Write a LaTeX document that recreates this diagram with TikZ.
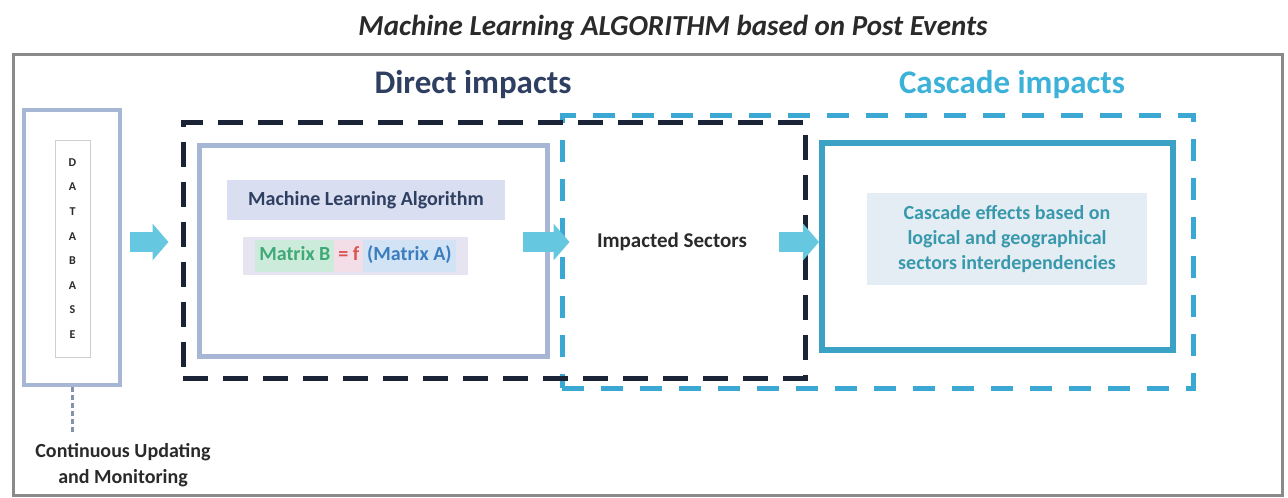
\documentclass[tikz,border=0pt]{standalone}
\usepackage{fontspec}
\setmainfont{Carlito}
\usetikzlibrary{arrows.meta}

\definecolor{framegray}{HTML}{8A8A8A}
\definecolor{navyink}{HTML}{2F3F62}
\definecolor{darkdash}{HTML}{1B2436}
\definecolor{cyandash}{HTML}{3AA8D2}
\definecolor{cyanhead}{HTML}{3DB2D8}
\definecolor{steelline}{HTML}{A6B6D4}
\definecolor{tealline}{HTML}{3BA2C6}
\definecolor{tealink}{HTML}{3898AC}
\definecolor{arrowfill}{HTML}{66C8E0}
\definecolor{lavbg}{HTML}{D9DEF0}
\definecolor{matbg}{HTML}{E6E4F1}
\definecolor{greenbg}{HTML}{CDEBDA}
\definecolor{greenink}{HTML}{3FA877}
\definecolor{bluebg}{HTML}{D1E3F5}
\definecolor{blueink}{HTML}{3B7DBF}
\definecolor{pinkbg}{HTML}{F3DDE6}
\definecolor{redink}{HTML}{D9534F}
\definecolor{cascbg}{HTML}{E5EDF4}
\definecolor{dbgray}{HTML}{CFCFCF}
\definecolor{textgray}{HTML}{2A2A2A}

\newcommand\hlword[2]{{\setlength{\fboxsep}{4pt}\colorbox{#1}{\strut#2}}}

\tikzset{
  plainbox/.style={rectangle, draw, inner sep=0pt},
  dashedframe/.style={plainbox, line width=5pt},
  label/.style={inner sep=0pt, align=center},
  blockarrow/.style={draw=arrowfill, line width=20pt,
    -{Triangle[width=36pt, length=16pt, fill=arrowfill]}},
}

\begin{document}
\begin{tikzpicture}[x=1pt, y=-1pt]
\useasboundingbox (0,0) rectangle (1288,498);
\fill[white] (0,0) rectangle (1288,498);

% title and outer frame
\node[label, font=\fontsize{29}{34}\selectfont\bfseries\itshape, text=textgray]
  (title) at (673,28) {Machine Learning ALGORITHM based on Post Events};
\node[plainbox, draw=framegray, line width=3pt, minimum width=1269pt, minimum height=441pt]
  (frame) at (647.5,274.5) {};

% section headings
\node[label, font=\fontsize{33}{38}\selectfont\bfseries, text=navyink]
  (dirhead) at (473,85) {Direct impacts};
\node[label, font=\fontsize{33}{38}\selectfont\bfseries, text=cyanhead]
  (cashead) at (1012,85) {Cascade impacts};

% database column
\node[plainbox, draw=steelline, line width=4pt, minimum width=96pt, minimum height=275pt]
  (db) at (72,247.5) {};
\node[plainbox, draw=dbgray, line width=0.8pt, minimum width=35pt, minimum height=217pt,
  font=\fontsize{12}{24.6}\selectfont\bfseries, text=textgray, align=center]
  (dbin) at (72.5,248.5) {D\\A\\T\\A\\B\\A\\S\\E};

% updating note
\coordinate (updtop) at (72,433);
\draw[draw=steelline!80!black, line width=3pt, dash pattern=on 5pt off 3pt]
  (db.south) -- (updtop);
\node[label, font=\fontsize{20}{26}\selectfont\bfseries, text=textgray]
  (upd) at (123,465) {Continuous Updating\\and Monitoring};

% impact regions
\node[dashedframe, draw=cyandash, dash pattern=on 22pt off 17pt,
  minimum width=631pt, minimum height=273pt]
  (cascade) at (877.5,251.5) {};
\node[dashedframe, draw=darkdash, dash pattern=on 25pt off 15pt,
  minimum width=622pt, minimum height=256pt]
  (direct) at (494,250) {};

% machine learning block
\node[plainbox, draw=steelline, line width=5pt, minimum width=348pt, minimum height=211pt]
  (ml) at (373,250.5) {};
\node[label, fill=lavbg, minimum width=278pt, minimum height=40pt,
  font=\fontsize{20}{24}\selectfont\bfseries, text=navyink]
  (mlalg) at (366,200) {Machine Learning Algorithm};
\node[label, fill=matbg, minimum width=225pt, minimum height=38pt,
  font=\fontsize{20}{24}\selectfont\bfseries]
  (matrix) at (355.5,256)
  {\hlword{greenbg}{\textcolor{greenink}{Matrix B}}\hlword{pinkbg}{\textcolor{redink}{= f}}\hlword{bluebg}{\textcolor{blueink}{(Matrix A)}}};

% impacted sectors
\node[label, font=\fontsize{21}{25}\selectfont\bfseries, text=textgray]
  (imp) at (672,242) {Impacted Sectors};

% cascade block
\node[plainbox, draw=tealline, line width=6pt, minimum width=351pt, minimum height=207pt]
  (teal) at (997.5,246.5) {};
\node[label, fill=cascbg, minimum width=280pt, minimum height=92pt,
  font=\fontsize{20}{25}\selectfont\bfseries, text=tealink]
  (casctext) at (1007,239)
  {Cascade effects based on\\logical and geographical\\sectors interdependencies};

% flow arrows
\draw[blockarrow] ([xshift=8pt]db.east |- imp) -- ([xshift=-12pt]direct.west |- imp);
\draw[blockarrow] ([xshift=-27pt]ml.east |- imp) -- ([xshift=10pt]cascade.west |- imp);
\draw[blockarrow] ([xshift=-29pt]direct.east |- imp) -- (teal.west |- imp);
\end{tikzpicture}
\end{document}
